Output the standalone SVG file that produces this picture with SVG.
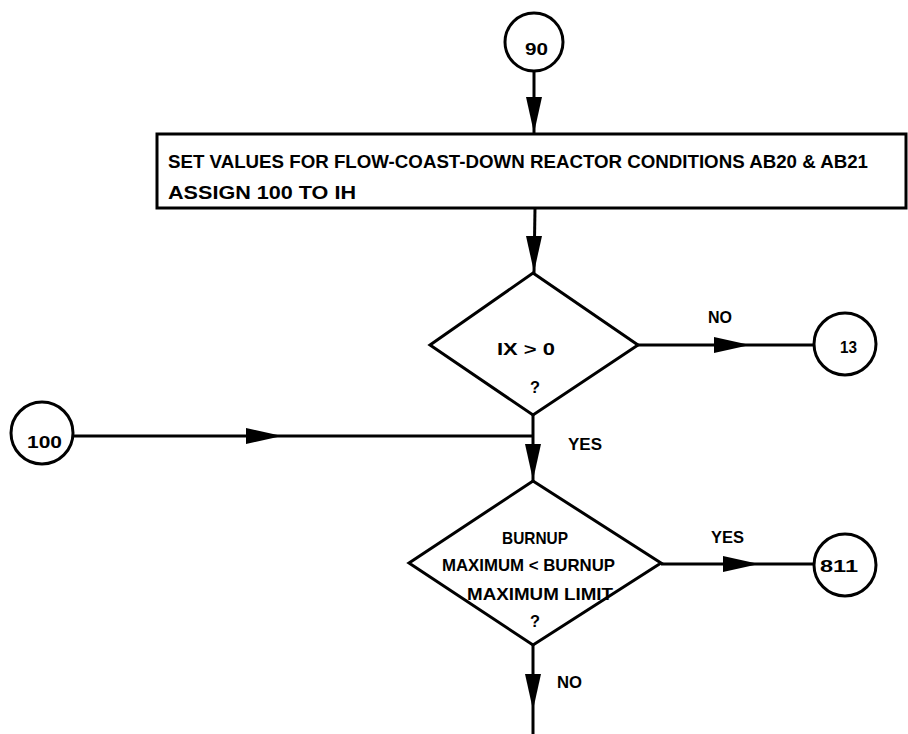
<svg xmlns="http://www.w3.org/2000/svg" xmlns:xlink="http://www.w3.org/1999/xlink" width="908" height="734" viewBox="0 0 908 734">
<style>
  .shape { fill: #ffffff; stroke: #000000; stroke-width: 3; }
  .line { fill: none; stroke: #000000; stroke-width: 3; }
  .head { fill: #000000; stroke: none; }
  text { font-family: "Liberation Sans", "DejaVu Sans", sans-serif; fill: #000000; font-weight: bold; }
  .box { font-size: 19px; }
  .lbl { font-size: 17px; }
</style>
<defs>
  <path id="ah" d="M0,0 L-36,-8 L-36,8 Z"/>
</defs>
<rect width="908" height="734" fill="#ffffff"/>

<g id="connectors">
  <line class="line" x1="534" y1="71" x2="534" y2="134"/>
  <use xlink:href="#ah" class="head" transform="translate(534,133) rotate(90)"/>

  <line class="line" x1="535" y1="208" x2="534" y2="273"/>
  <use xlink:href="#ah" class="head" transform="translate(534,272) rotate(90)"/>

  <line class="line" x1="638" y1="345" x2="814" y2="345"/>
  <use xlink:href="#ah" class="head" transform="translate(750,345)"/>
  <text class="lbl" x="708" y="323" textLength="24" lengthAdjust="spacingAndGlyphs">NO</text>

  <line class="line" x1="73" y1="436" x2="533" y2="436"/>
  <use xlink:href="#ah" class="head" transform="translate(282,436)"/>

  <line class="line" x1="533" y1="415" x2="533" y2="481"/>
  <use xlink:href="#ah" class="head" transform="translate(533,480) rotate(90)"/>
  <text class="lbl" x="568" y="450" textLength="34" lengthAdjust="spacingAndGlyphs">YES</text>

  <line class="line" x1="661" y1="564" x2="814" y2="564"/>
  <use xlink:href="#ah" class="head" transform="translate(759,564)"/>
  <text class="lbl" x="711" y="543" textLength="33" lengthAdjust="spacingAndGlyphs">YES</text>

  <line class="line" x1="533" y1="645" x2="533" y2="734"/>
  <use xlink:href="#ah" class="head" transform="translate(533,710) rotate(90)"/>
  <text class="lbl" x="557" y="688" textLength="25" lengthAdjust="spacingAndGlyphs">NO</text>
</g>

<g id="n90">
  <circle class="shape" cx="534" cy="42" r="29"/>
  <text class="lbl" x="525" y="55" textLength="23" lengthAdjust="spacingAndGlyphs">90</text>
</g>

<g id="setValues">
  <rect class="shape" x="157" y="134" width="749" height="74" stroke-width="3.5"/>
  <text class="box" x="168" y="168" textLength="700" lengthAdjust="spacingAndGlyphs">SET VALUES FOR FLOW-COAST-DOWN REACTOR CONDITIONS AB20 &amp; AB21</text>
  <text class="box" x="168" y="199" textLength="188" lengthAdjust="spacingAndGlyphs">ASSIGN 100 TO IH</text>
</g>

<g id="ixTest">
  <polygon class="shape" points="533,273 638,345 533,415 430,345"/>
  <text class="lbl" x="497" y="355" textLength="58" lengthAdjust="spacingAndGlyphs">IX &gt; 0</text>
  <text class="lbl" x="530" y="393" textLength="10" lengthAdjust="spacingAndGlyphs">?</text>
</g>

<g id="n13">
  <circle class="shape" cx="845" cy="344" r="31"/>
  <text class="lbl" x="840" y="353" textLength="17" lengthAdjust="spacingAndGlyphs">13</text>
</g>

<g id="n100">
  <circle class="shape" cx="42" cy="433" r="31"/>
  <text class="lbl" x="27" y="448" textLength="35" lengthAdjust="spacingAndGlyphs">100</text>
</g>

<g id="burnupTest">
  <polygon class="shape" points="533,481 661,563 533,645 409,563"/>
  <text class="lbl" x="502" y="544" textLength="66" lengthAdjust="spacingAndGlyphs">BURNUP</text>
  <text class="lbl" x="442" y="571" textLength="173" lengthAdjust="spacingAndGlyphs">MAXIMUM &lt; BURNUP</text>
  <text class="lbl" x="467" y="600" textLength="146" lengthAdjust="spacingAndGlyphs">MAXIMUM LIMIT</text>
  <text class="lbl" x="530" y="627" textLength="10" lengthAdjust="spacingAndGlyphs">?</text>
</g>

<g id="n811">
  <circle class="shape" cx="845" cy="565" r="31"/>
  <text class="lbl" x="820" y="572" textLength="38" lengthAdjust="spacingAndGlyphs">811</text>
</g>
</svg>
